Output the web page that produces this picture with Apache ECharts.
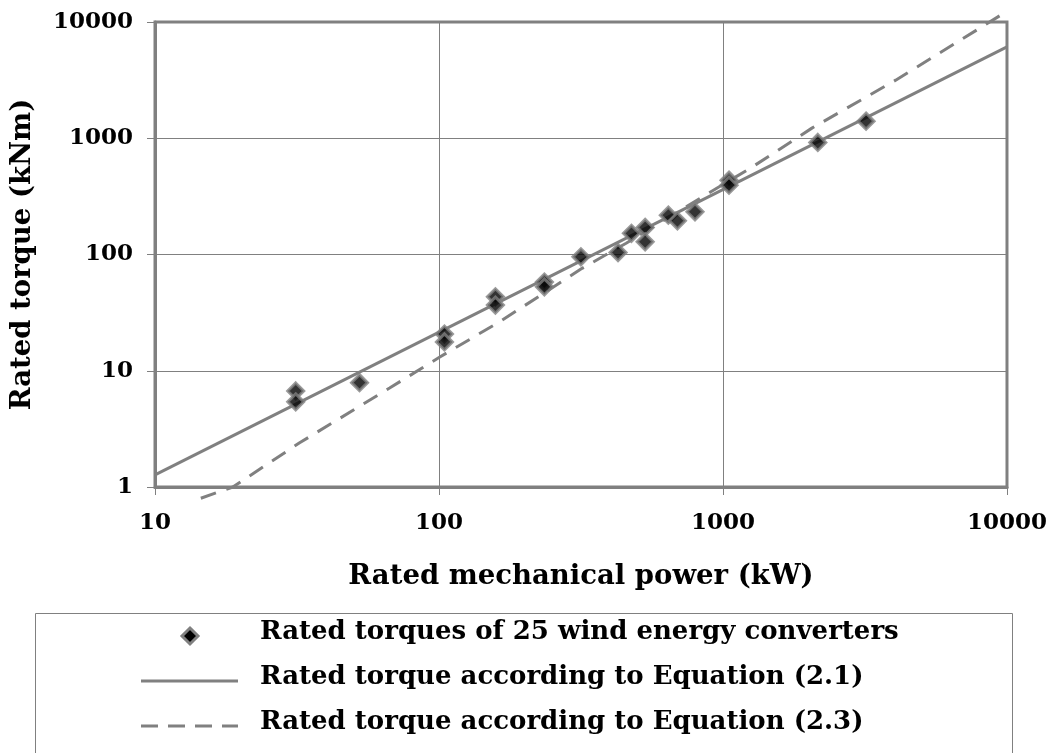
<!DOCTYPE html>
<html>
<head>
<meta charset="utf-8">
<script src="https://cdn.jsdelivr.net/npm/echarts@6/dist/echarts.min.js"></script>
<style>
html,body{margin:0;padding:0;background:#fff;}
#chart{width:1050px;height:753px;}
</style>
</head>
<body>
<div id="chart"></div>
<script>
// Scatter: rated torques of 25 wind energy converters
var powerKW   = [31.3, 31.3, 52.5, 104.5, 104.5, 158, 158, 235, 235, 316, 427, 476, 532, 532, 642, 691, 797, 1050, 1050, 2157, 3190];
var torqueKNm = [6.7, 5.4, 7.9, 20.7, 17.7, 43.3, 36.7, 58, 52.7, 95.5, 104, 152, 171, 128.6, 218, 195, 233, 436, 395, 920, 1403];
// Equation (2.1)
var eq21Power  = [10, 10000];
var eq21Torque = [1.27, 6110];
// Equation (2.3)
var eq23Power  = [14.5, 18.8, 32.3, 67, 100, 166, 319, 456, 844, 1265, 2056, 4055, 9880];
var eq23Torque = [0.8, 1.0, 2.4, 7.1, 13, 27, 76, 125, 312, 564, 1222, 3160, 12140];
// Tick labels
var xTickLabels = ['10', '100', '1000', '10000'];
var yTickLabels = ['1', '10', '100', '1000', '10000'];

var seriesNames = [
  'Rated torques of 25 wind energy converters',
  'Rated torque according to Equation (2.1)',
  'Rated torque according to Equation (2.3)'
];

function zip(a, b) { return a.map(function (v, i) { return [v, b[i]]; }); }
function labelFor(list) {
  return function (v) {
    var s = String(Math.round(v));
    return list.indexOf(s) >= 0 ? s : '';
  };
}

var FONT = 'DejaVu Serif';
var GRAY = '#808080';
var TXT = {fontFamily: FONT, fontSize: 26, fontWeight: 'bold', fill: '#000'};

// legend drawn as graphic (rows centred at these y positions)
var legendRows = [636, 681, 726];
var legendGraphic = [
  {type: 'rect', left: 33, top: 611, silent: true, shape: {width: 977, height: 140},
   style: {fill: 'none', stroke: GRAY, lineWidth: 1}},
  {type: 'polygon', silent: true,
   shape: {points: [[190, legendRows[0] - 8], [198, legendRows[0]], [190, legendRows[0] + 8], [182, legendRows[0]]]},
   style: {fill: '#000', stroke: GRAY, lineWidth: 3}},
  {type: 'line', silent: true, shape: {x1: 141, y1: legendRows[1], x2: 238, y2: legendRows[1]},
   style: {stroke: GRAY, lineWidth: 3}},
  {type: 'line', silent: true, shape: {x1: 141, y1: legendRows[2], x2: 238, y2: legendRows[2]},
   style: {stroke: GRAY, lineWidth: 3, lineDash: [17, 10]}}
];
seriesNames.forEach(function (n, i) {
  legendGraphic.push({
    type: 'text', left: 260, top: legendRows[i] - 17, silent: true,
    style: Object.assign({text: n}, TXT)
  });
});

var chart = echarts.init(document.getElementById('chart'), null, {renderer: 'canvas'});
chart.setOption({
  animation: false,
  backgroundColor: '#fff',
  textStyle: {fontFamily: FONT, color: '#000'},
  grid: {left: 155, right: 38, top: 22, bottom: 266, show: true, borderColor: GRAY, borderWidth: 3, containLabel: false},
  xAxis: {
    type: 'log', logBase: 10, min: 10, max: 10000,
    name: 'Rated mechanical power (kW)', nameLocation: 'middle', nameGap: 76,
    nameTextStyle: {fontFamily: FONT, fontSize: 27.5, fontWeight: 'bold', color: '#000'},
    axisLine: {show: true, lineStyle: {color: GRAY, width: 3}},
    axisTick: {show: true, length: 8, lineStyle: {color: GRAY, width: 1}},
    axisLabel: {fontFamily: FONT, fontSize: 23, fontWeight: 'bold', color: '#000', margin: 25, formatter: labelFor(xTickLabels)},
    splitLine: {show: true, lineStyle: {color: GRAY, width: 1}}
  },
  yAxis: {
    type: 'log', logBase: 10, min: 1, max: 10000,
    name: 'Rated torque (kNm)', nameLocation: 'middle', nameGap: 118, nameRotate: 90,
    nameTextStyle: {fontFamily: FONT, fontSize: 27.5, fontWeight: 'bold', color: '#000'},
    axisLine: {show: true, lineStyle: {color: GRAY, width: 3}},
    axisTick: {show: true, length: 8, lineStyle: {color: GRAY, width: 1}},
    axisLabel: {fontFamily: FONT, fontSize: 23, fontWeight: 'bold', color: '#000', margin: 22, formatter: labelFor(yTickLabels)},
    splitLine: {show: true, lineStyle: {color: GRAY, width: 1}}
  },
  graphic: legendGraphic,
  series: [
    {
      name: seriesNames[2], type: 'line', data: zip(eq23Power, eq23Torque),
      showSymbol: false, symbol: 'none', clip: false, z: 2,
      lineStyle: {color: GRAY, width: 3, type: [16, 11]}
    },
    {
      name: seriesNames[1], type: 'line', data: zip(eq21Power, eq21Torque),
      showSymbol: false, symbol: 'none', z: 3,
      lineStyle: {color: GRAY, width: 3, type: 'solid'}
    },
    {
      name: seriesNames[0], type: 'scatter', data: zip(powerKW, torqueKNm),
      symbol: 'diamond', symbolSize: 16, z: 5,
      itemStyle: {color: '#000', borderColor: GRAY, borderWidth: 3}
    }
  ]
});
</script>
</body>
</html>
